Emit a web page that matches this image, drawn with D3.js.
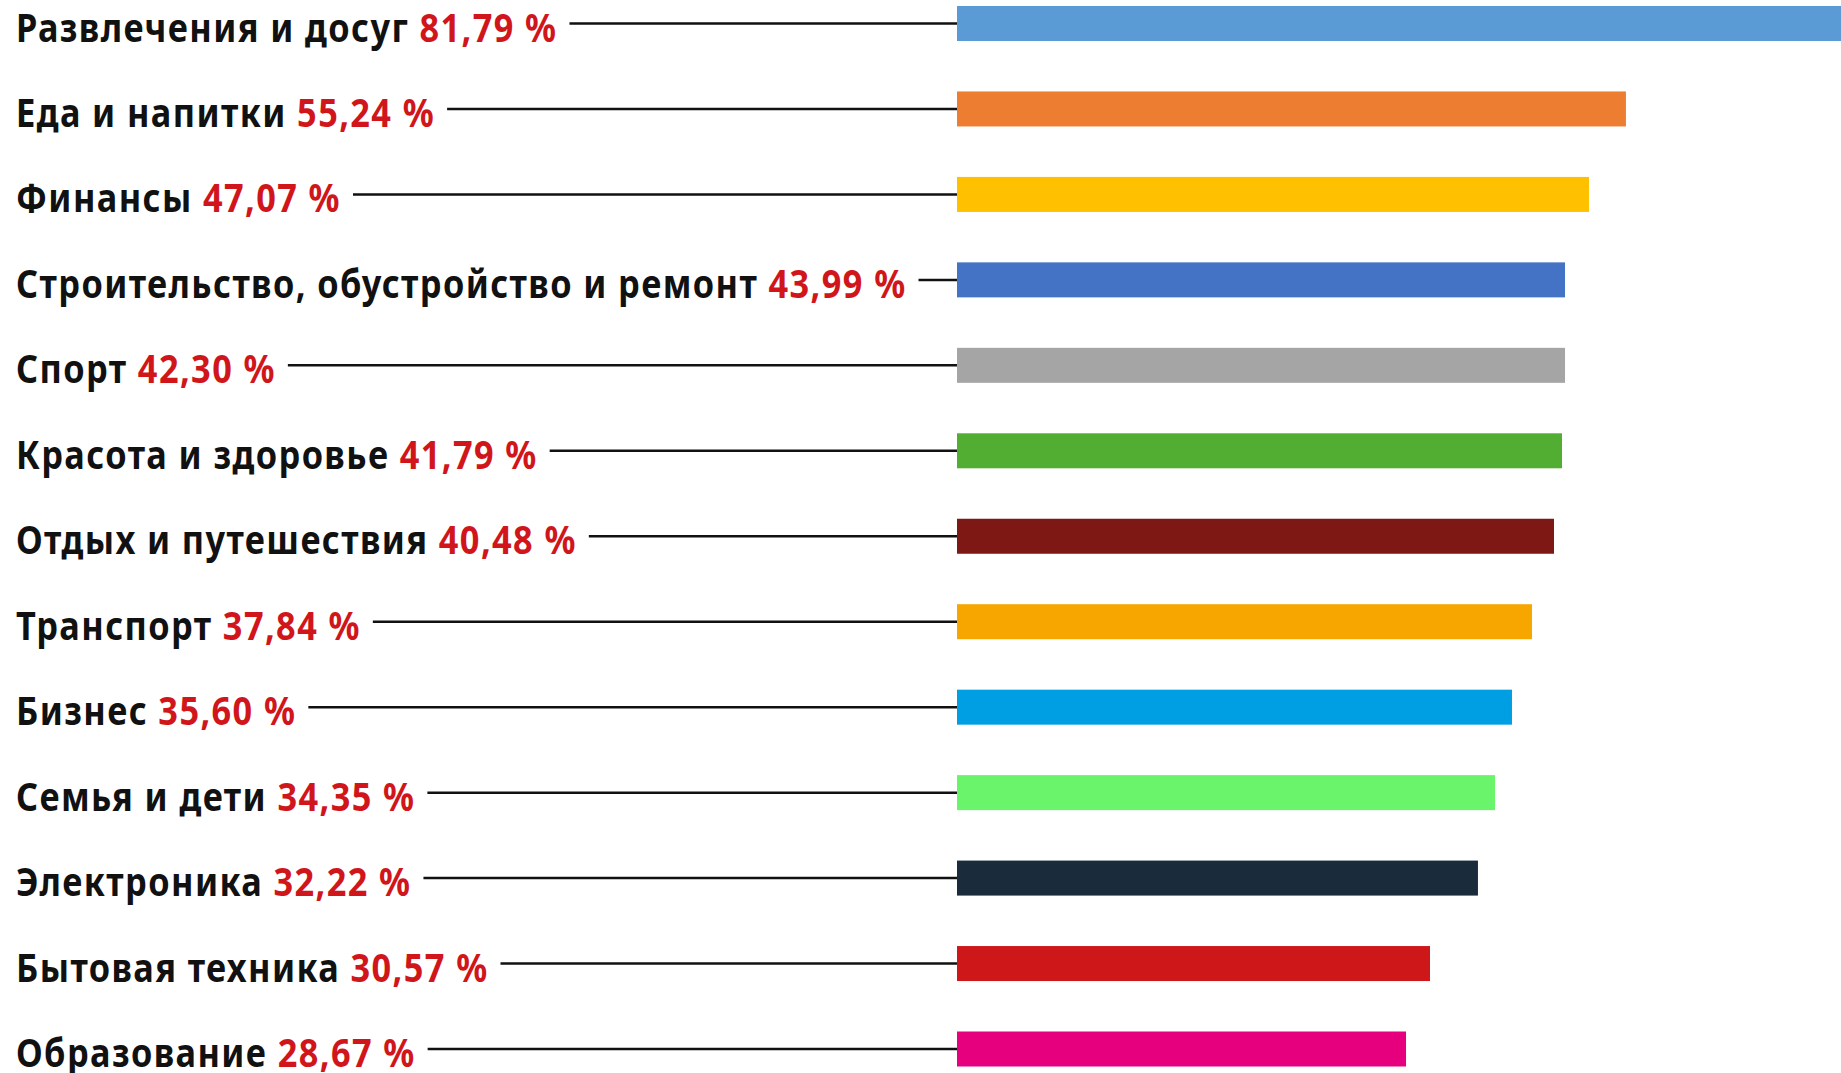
<!DOCTYPE html>
<html>
<head>
<meta charset="utf-8">
<script src="https://cdn.jsdelivr.net/npm/d3@7"></script>
<style>
  html, body { margin: 0; padding: 0; background: #fff; }
  svg { display: block; }
  .label { font-family: "Noto Sans", "DejaVu Sans", sans-serif; font-weight: bold; font-size: 39px; letter-spacing: 1.6px; fill: #111; }
  .label .val { fill: #d0161b; }
  .leader { stroke: #111; stroke-width: 2.5; }
</style>
</head>
<body>
<div id="chart"></div>
<script>
// категории сверху вниз
const categories = [
  'Развлечения и досуг',
  'Еда и напитки',
  'Финансы',
  'Строительство, обустройство и ремонт',
  'Спорт',
  'Красота и здоровье',
  'Отдых и путешествия',
  'Транспорт',
  'Бизнес',
  'Семья и дети',
  'Электроника',
  'Бытовая техника',
  'Образование'
];

// подписи (в процентах)
const labelValues = [81.79, 55.24, 47.07, 43.99, 42.30, 41.79, 40.48, 37.84, 35.60, 34.35, 32.22, 30.57, 28.67];

// длины полос на исходной картинке не совпадают с подписями
const barValues = [81.79, 55.24, 52.19, 50.21, 50.21, 49.96, 49.30, 47.48, 45.83, 44.43, 43.02, 39.06, 37.08];

const barColors = ['#5b9bd5', '#ed7d31', '#ffc000', '#4472c4', '#a5a5a5', '#52ae32', '#7d1814',
                   '#f7a600', '#009fe3', '#69f46c', '#1a2c3b', '#ce1719', '#e6007e'];

const width = 1841;
const height = 1073;
const barH = 35;
const labelX = 16;
const squeeze = 0.88; // шрифт в оригинале узкий

const svg = d3.select('#chart').append('svg')
  .attr('width', width)
  .attr('height', height);

const x = d3.scaleLinear().domain([0, 73]).range([957, width]).clamp(true);
const y = d3.scalePoint().domain(categories).range([23.5, 1049]);

const rows = categories.map((c, i) => ({ name: c, label: labelValues[i], bar: barValues[i], color: barColors[i] }));

const fmt = v => v.toFixed(2).replace('.', ',') + ' %';

svg.selectAll('rect.bar')
  .data(rows)
  .join('rect')
  .attr('class', 'bar')
  .attr('x', x(0))
  .attr('y', d => y(d.name) - barH / 2)
  .attr('width', d => x(d.bar) - x(0))
  .attr('height', barH)
  .attr('fill', d => d.color);

const labels = svg.selectAll('text.label')
  .data(rows)
  .join('text')
  .attr('class', 'label')
  .attr('transform', d => `translate(${labelX},${y(d.name) + 18}) scale(${squeeze},1)`);

labels.append('tspan').text(d => d.name + ' ');
labels.append('tspan').attr('class', 'val').text(d => fmt(d.label));

// соединительные линии от подписи до полосы
labels.each(function (d) {
  const end = labelX + this.getComputedTextLength() * squeeze + 12;
  svg.append('line')
    .attr('class', 'leader')
    .attr('x1', end)
    .attr('x2', x(0))
    .attr('y1', y(d.name))
    .attr('y2', y(d.name));
});
</script>
</body>
</html>
